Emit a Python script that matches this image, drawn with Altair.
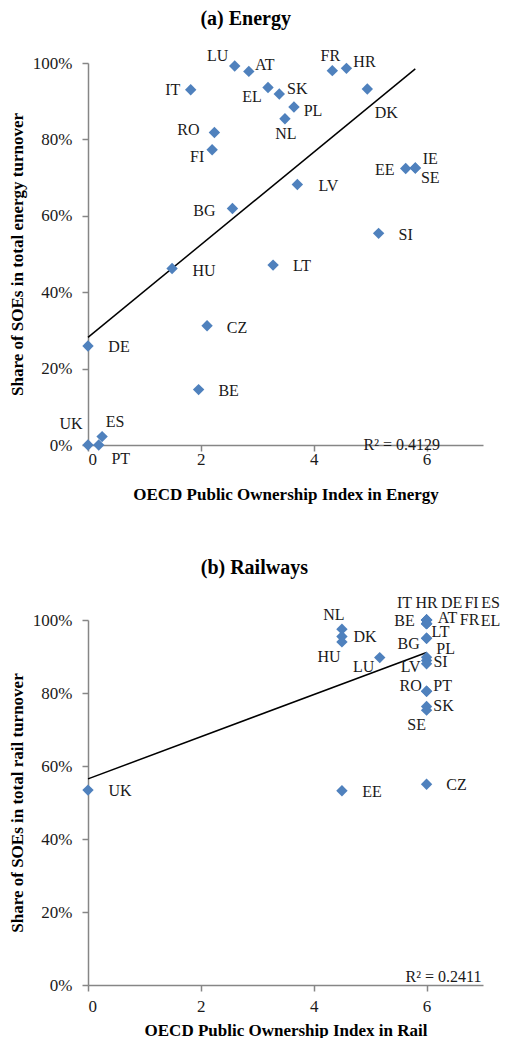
import altair as alt
import pandas as pd

FONT = "Liberation Serif"

# ---------------- Energy panel data ----------------
energy_countries = ["LU", "AT", "IT", "FR", "HR", "EL", "SK", "PL", "NL", "DK",
                    "RO", "FI", "EE", "IE", "SE", "LV", "BG", "SI", "HU", "LT",
                    "CZ", "DE", "BE", "UK", "ES", "PT"]
energy_index = [2.60, 2.85, 1.82, 4.33, 4.58, 3.19, 3.39, 3.65, 3.49, 4.95,
                2.24, 2.20, 5.63, 5.80, 5.80, 3.71, 2.56, 5.15, 1.49, 3.28,
                2.11, 0.00, 1.96, 0.00, 0.25, 0.19]
energy_share = [99.2, 97.8, 93.0, 98.0, 98.6, 93.6, 91.9, 88.5, 85.4, 93.2,
                81.8, 77.3, 72.4, 72.5, 72.5, 68.2, 61.9, 55.4, 46.2, 47.1,
                31.2, 25.9, 14.5, 0.0, 2.2, 0.0]
energy_r2 = "R\u00b2 = 0.4129"

# ---------------- Rail panel data ----------------
rail_countries = ["IT", "HR", "DE", "FI", "ES", "BE", "AT", "FR", "EL", "LT",
                  "BG", "PL", "SI", "LV", "RO", "PT", "SK", "SE", "CZ", "NL",
                  "DK", "HU", "LU", "EE", "UK"]
rail_index = [6.0, 6.0, 6.0, 6.0, 6.0, 6.0, 6.0, 6.0, 6.0, 6.0,
              6.0, 6.0, 6.0, 6.0, 6.0, 6.0, 6.0, 6.0, 6.0, 4.5,
              4.5, 4.5, 5.17, 4.5, 0.0]
rail_share = [100.0, 100.0, 100.0, 100.0, 100.0, 99.0, 99.0, 99.0, 99.0, 95.0,
              95.0, 89.8, 88.9, 88.0, 80.5, 80.5, 76.3, 75.3, 55.0, 97.5,
              95.5, 94.0, 89.7, 53.2, 53.4]
rail_r2 = "R\u00b2 = 0.2411"

# ---------------- label placement (pixel nudges, layout only) ----------------
energy_label_offsets = {
    "LU": (-17, -10), "AT": (16, -6), "IT": (-18, 0), "FR": (-2, -15),
    "HR": (18, -6), "EL": (-16, 10), "SK": (18, -5), "PL": (19, 4),
    "NL": (1, 15), "DK": (19, 24), "RO": (-26, -3), "FI": (-15, 7),
    "EE": (-21, 2), "IE": (15, -9), "SE": (15, 10), "LV": (31, 2),
    "BG": (-28, 2), "SI": (27, 2), "HU": (32, 2), "LT": (29, 1),
    "CZ": (30, 2), "DE": (31, 1), "BE": (30, 1), "UK": (-17, -21),
    "ES": (13, -15), "PT": (22, 14),
}
rail_label_offsets = {
    "IT": (-22, -17), "HR": (0, -17), "DE": (25, -17), "FI": (45, -17),
    "ES": (64, -17), "BE": (-22, -3), "AT": (21, -6), "FR": (43, -4),
    "EL": (64, -3), "LT": (14, -6), "BG": (-18, 6), "PL": (19, -8),
    "SI": (14, 1), "LV": (-16, 3), "RO": (-16, -5), "PT": (16, -5),
    "SK": (17, -1), "SE": (-10, 15), "CZ": (30, 1), "NL": (-8, -14),
    "DK": (23, 1), "HU": (-13, 15), "LU": (-16, 9), "EE": (30, 1),
    "UK": (32, 1),
}

WIDTH = 395
X_MAX = 7


def make_df(countries, idx, share, offsets, height):
    px_x = WIDTH / X_MAX
    px_y = height / 100.0
    df = pd.DataFrame({"country": countries, "index": idx, "share": share})
    df["lx"] = [v + offsets[c][0] / px_x for c, v in zip(countries, idx)]
    df["ly"] = [v - offsets[c][1] / px_y for c, v in zip(countries, share)]
    return df


def panel(df, title, title_offset, xtitle, ytitle, r2text, r2x, r2y, height,
          x_label_pad, x_title_pad):
    xscale = alt.Scale(domain=[0, X_MAX], nice=False, zero=False)
    yscale = alt.Scale(domain=[0, 100], nice=False)
    xaxis = alt.Axis(values=[0, 2, 4, 6], format="d", title=xtitle,
                     labelPadding=x_label_pad, titlePadding=x_title_pad)
    yaxis = alt.Axis(values=[0, 20, 40, 60, 80, 100],
                     labelExpr="datum.value + '%'", title=ytitle,
                     labelPadding=10, titlePadding=6)
    x_enc = alt.X("index:Q", scale=xscale, axis=xaxis)
    y_enc = alt.Y("share:Q", scale=yscale, axis=yaxis)
    base = alt.Chart(df)
    trend = base.transform_regression("index", "share").mark_line(
        color="black", strokeWidth=1.5
    ).encode(x=x_enc, y=y_enc)
    pts = base.mark_point(
        shape="diamond", filled=True, size=130, color="#4F81BD", opacity=1
    ).encode(x=x_enc, y=y_enc)
    labels = base.mark_text(
        font=FONT, fontSize=16, color="#1a1a1a", baseline="middle", align="center"
    ).encode(
        x=alt.X("lx:Q", scale=xscale, axis=xaxis),
        y=alt.Y("ly:Q", scale=yscale, axis=yaxis),
        text="country:N",
    )
    r2 = alt.Chart(pd.DataFrame({"t": [r2text]})).mark_text(
        font=FONT, fontSize=16, color="#1a1a1a", baseline="middle", align="center"
    ).encode(x=alt.datum(r2x), y=alt.datum(r2y), text="t:N")
    return alt.layer(trend, pts, labels, r2).properties(
        width=WIDTH, height=height,
        title=alt.TitleParams(title, offset=title_offset, frame="bounds",
                              anchor="middle"),
    )


energy_df = make_df(energy_countries, energy_index, energy_share,
                    energy_label_offsets, 382)
rail_df = make_df(rail_countries, rail_index, rail_share,
                  rail_label_offsets, 365)

top = panel(energy_df, "(a) Energy", 19,
            "OECD Public Ownership Index in Energy",
            "Share of SOEs in total energy turnover",
            energy_r2, 5.56, 0.0, 382, 0, 19)
bottom = panel(rail_df, "(b) Railways", 17,
               "OECD Public Ownership Index in Rail",
               "Share of SOEs in total rail turnover",
               rail_r2, 6.3, 2.3, 365, 7, 8)

chart = alt.vconcat(top, bottom, spacing=56).properties(
    padding=0
).configure_axis(
    labelFont=FONT, titleFont=FONT, labelFontSize=17, titleFontSize=17,
    titleFontWeight="bold", labelColor="#1a1a1a", titleColor="#000000",
    grid=False, domainColor="#868686", tickColor="#868686",
    domainWidth=1.5, tickWidth=1.5, tickSize=6,
).configure_view(stroke=None).configure_title(
    font=FONT, fontSize=20, fontWeight="bold", color="#000000", anchor="middle"
)

chart.save("out.html", embed_options={"renderer": "svg", "actions": False})
